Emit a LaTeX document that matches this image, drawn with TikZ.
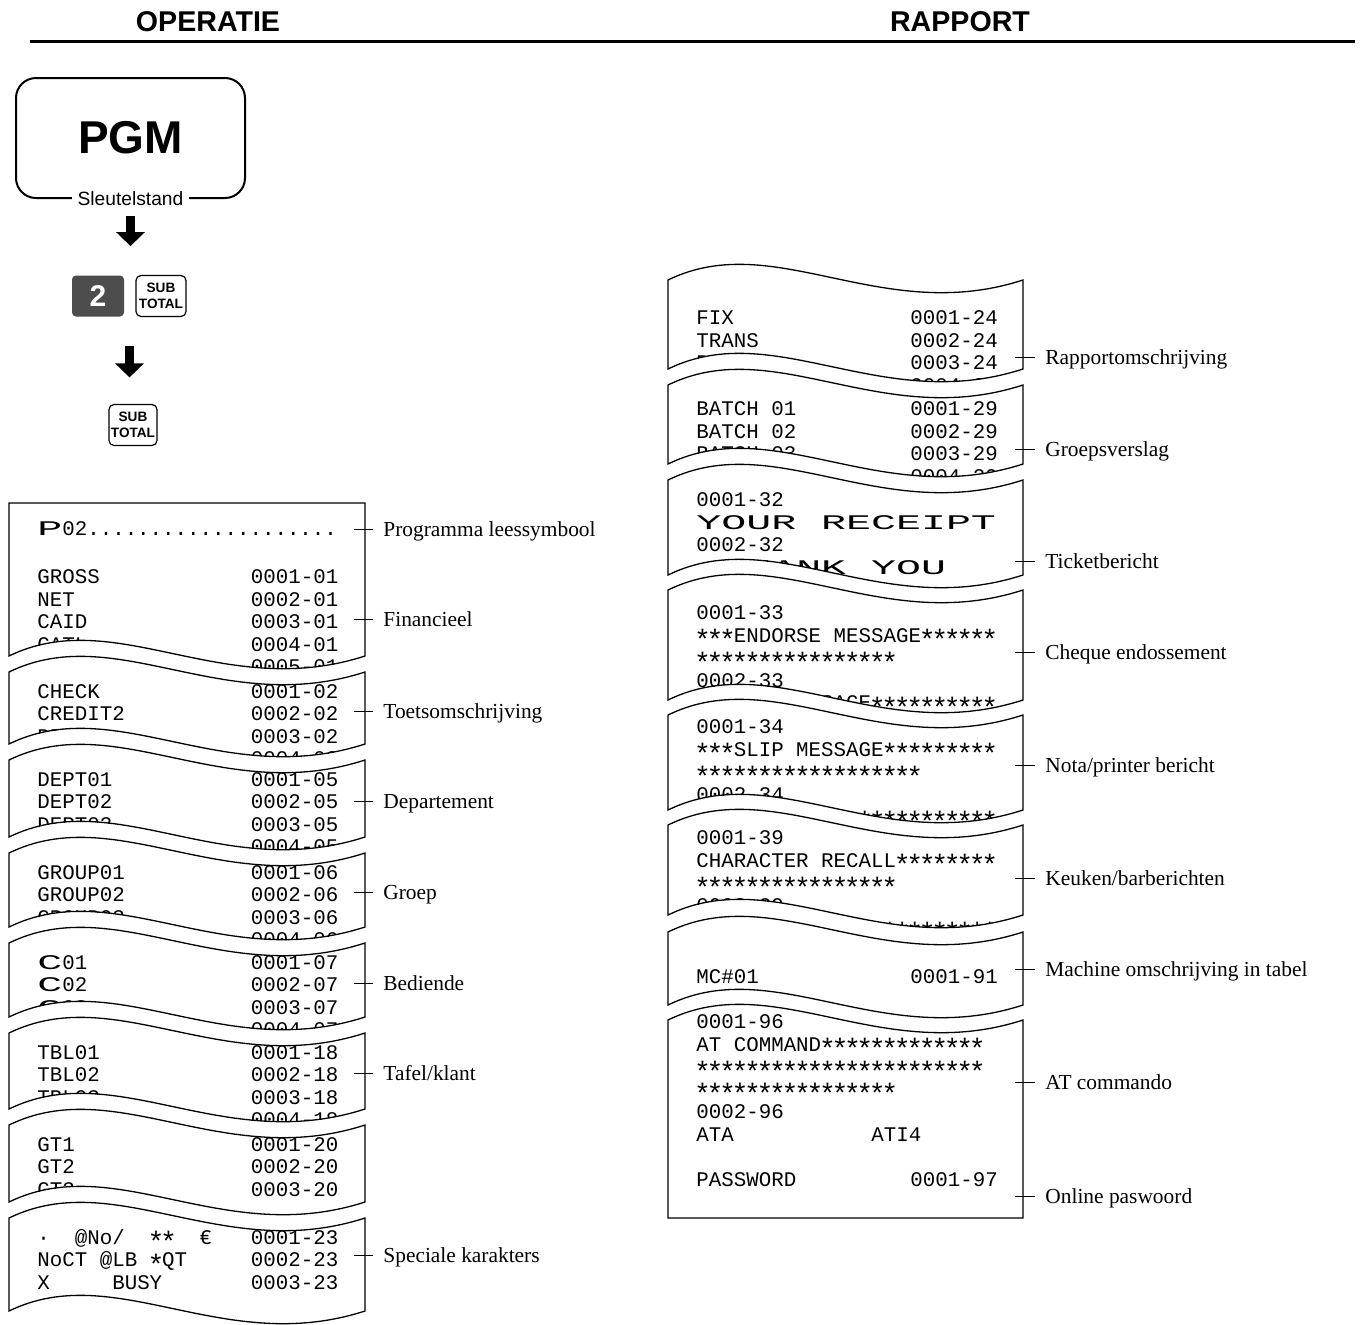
\documentclass[tikz,border=0pt]{standalone}
\usepackage{fontspec}
\setmainfont{Liberation Serif}
\setsansfont{Liberation Sans}
\setmonofont{Liberation Mono}
\usepackage{graphicx}
\usepackage{tikz}
\usetikzlibrary{positioning,arrows.meta,calc}
\definecolor{keygray}{HTML}{4D4D4D}

% torn receipt pieces: left x, right x, top y, bottom y
\newcommand\tornpath[4]{(#1,#4) -- (#1,#3) .. controls ({#1+0.3*(#2-#1)},{#3-52}) and ({#1+0.6*(#2-#1)},{#3+46}) .. (#2,#3)
  -- (#2,#4) .. controls ({#1+0.6*(#2-#1)},{#4+46}) and ({#1+0.3*(#2-#1)},{#4-52}) .. (#1,#4) -- cycle}
\newcommand\topflat[4]{(#1,#4) -- (#1,#3) -- (#2,#3)
  -- (#2,#4) .. controls ({#1+0.6*(#2-#1)},{#4+46}) and ({#1+0.3*(#2-#1)},{#4-52}) .. (#1,#4) -- cycle}
\newcommand\botflat[4]{(#1,#4) -- (#1,#3) .. controls ({#1+0.3*(#2-#1)},{#3-52}) and ({#1+0.6*(#2-#1)},{#3+46}) .. (#2,#3)
  -- (#2,#4) -- cycle}
% a run of printer stars, one per column
\newcommand\stars[1]{\foreach \k in {1,...,#1}{\makebox[0.6em]{\smash{\raisebox{-0.36em}{\scalebox{1.35}{*}}}}}}

\begin{document}
\begin{tikzpicture}[x=0.5pt,y=-0.5pt,
  head/.style={inner sep=0,font=\sffamily\bfseries\fontsize{14.3}{16}\selectfont},
  rl/.style={anchor=base west,inner sep=0,font=\ttfamily\fontsize{10.4}{12}\selectfont},
  paper/.style={draw,line width=0.65pt},
  lbl/.style={anchor=west,inner sep=0,text height=7pt,text depth=0pt,font=\fontsize{10.7}{12}\selectfont},
  tickline/.style={line width=0.5pt,shorten >=5pt},
  keysub/.style={draw,line width=0.6pt,rounded corners=2.5pt,minimum width=25pt,minimum height=20.5pt,
    inner sep=0,align=center,font=\sffamily\bfseries\fontsize{6.8}{7.8}\selectfont},
  bigarrow/.style={line width=4.5pt,-{Triangle[width=14pt,length=7pt]}}
]
\useasboundingbox (0,0) rectangle (1360,1324);

% column heads
\node[head] (op) at (208,22) {OPERATIE};
\node[head] (rap) at (960,22) {RAPPORT};
\draw[line width=1.5pt] (30,41) -- (1355,41);

% key sequence
\node[draw,line width=1pt,rounded corners=10pt,minimum width=114.5pt,minimum height=60pt,
  font=\sffamily\bfseries\fontsize{23}{25}\selectfont] (pgm) at (130.5,138) {PGM};
\node[fill=white,inner xsep=3pt,inner ysep=1pt,font=\sffamily\fontsize{9.6}{11}\selectfont] (sleutel) at (pgm.south) {Sleutelstand};
\node[fill=keygray,rounded corners=2pt,minimum width=26pt,minimum height=20.5pt,inner sep=0,
  text=white,font=\sffamily\bfseries\fontsize{15}{16}\selectfont] (key2) at (98,296) {2};
\node[keysub,right=5.5pt of key2] (ksub1) {SUB\\TOTAL};
\node[keysub,minimum width=24pt] (ksub2) at (133,425) {SUB\\TOTAL};
\coordinate (kmid) at ($(key2.south)!0.5!(ksub1.south)$);
\draw[bigarrow,shorten <=8.5pt,shorten >=14.5pt] (pgm.south) -- (pgm.south |- key2.north);
\draw[bigarrow,shorten <=14.25pt,shorten >=13.25pt] (kmid) -- (kmid |- ksub2.north);

% left receipt
\begin{scope}
  \clip \topflat{9}{365}{503}{656};
  \node[rl] (p02) at (37,535) {\scalebox{2}[1]{P}02....................};
  \foreach \x/\y/\t [count=\i] in {37/583.5/GROSS, 37/606/NET, 37/628.5/CAID, 37/651/CATL,
      250.5/583.5/0001-01, 250.5/606/0002-01, 250.5/628.5/0003-01, 250.5/651/0004-01, 250.5/673.5/0005-01}
    \node[rl] (a\i) at (\x,\y) {\t};
\end{scope}
\draw[paper] \topflat{9}{365}{503}{656};

\begin{scope}
  \clip \tornpath{9}{365}{672}{744};
  \foreach \x/\y/\t [count=\i] in {37/698/CHECK, 37/720.5/CREDIT2, 37/743/PD,
      250.5/698/0001-02, 250.5/720.5/0002-02, 250.5/743/0003-02, 250.5/765.5/0004-02}
    \node[rl] (b\i) at (\x,\y) {\t};
\end{scope}
\draw[paper] \tornpath{9}{365}{672}{744};

\begin{scope}
  \clip \tornpath{9}{365}{760}{837};
  \foreach \x/\y/\t [count=\i] in {37/786/DEPT01, 37/808.5/DEPT02, 37/831/DEPT03,
      250.5/786/0001-05, 250.5/808.5/0002-05, 250.5/831/0003-05, 250.5/853.5/0004-05}
    \node[rl] (c\i) at (\x,\y) {\t};
\end{scope}
\draw[paper] \tornpath{9}{365}{760}{837};

\begin{scope}
  \clip \tornpath{9}{365}{853}{927};
  \foreach \x/\y/\t [count=\i] in {37/879/GROUP01, 37/901.5/GROUP02, 37/924/GROUP03,
      250.5/879/0001-06, 250.5/901.5/0002-06, 250.5/924/0003-06, 250.5/946.5/0004-06}
    \node[rl] (d\i) at (\x,\y) {\t};
\end{scope}
\draw[paper] \tornpath{9}{365}{853}{927};

\begin{scope}
  \clip \tornpath{9}{365}{943}{1017};
  \foreach \x/\y/\t [count=\i] in {37/969/{\scalebox{2}[1]{C}01}, 37/991.5/{\scalebox{2}[1]{C}02}, 37/1014/{\scalebox{2}[1]{C}03},
      250.5/969/0001-07, 250.5/991.5/0002-07, 250.5/1014/0003-07, 250.5/1036.5/0004-07}
    \node[rl] (e\i) at (\x,\y) {\t};
\end{scope}
\draw[paper] \tornpath{9}{365}{943}{1017};

\begin{scope}
  \clip \tornpath{9}{365}{1033}{1109};
  \foreach \x/\y/\t [count=\i] in {37/1059/TBL01, 37/1081.5/TBL02, 37/1104/TBL03,
      250.5/1059/0001-18, 250.5/1081.5/0002-18, 250.5/1104/0003-18, 250.5/1126.5/0004-18}
    \node[rl] (f\i) at (\x,\y) {\t};
\end{scope}
\draw[paper] \tornpath{9}{365}{1033}{1109};

\begin{scope}
  \clip \tornpath{9}{365}{1125}{1202};
  \foreach \x/\y/\t [count=\i] in {37/1151/GT1, 37/1173.5/GT2, 37/1196/GT3,
      250.5/1151/0001-20, 250.5/1173.5/0002-20, 250.5/1196/0003-20}
    \node[rl] (g\i) at (\x,\y) {\t};
\end{scope}
\draw[paper] \tornpath{9}{365}{1125}{1202};

\begin{scope}
  \clip \tornpath{9}{365}{1218}{1311};
  \foreach \x/\y/\t [count=\i] in {37/1244/{·~~@No/~~\stars{2}~~€}, 37/1266.5/{NoCT~@LB~\stars{1}QT}, 37/1289/{X~~~~~BUSY},
      250.5/1244/0001-23, 250.5/1266.5/0002-23, 250.5/1289/0003-23}
    \node[rl] (h\i) at (\x,\y) {\t};
\end{scope}
\draw[paper] \tornpath{9}{365}{1218}{1311};

% labels on the left receipt
\foreach \y/\t [count=\i] in {529/Programma leessymbool, 619/Financieel, 711/Toetsomschrijving,
    801/Departement, 892/Groep, 983/Bediende, 1073/{Tafel/klant}, 1255/Speciale karakters} {
  \coordinate (le\i) at (354,\y);
  \node[lbl] (ll\i) at (383,\y) {\t};
  \draw[tickline] (le\i) -- (ll\i.west);
}

% right receipt
\begin{scope}
  \clip \tornpath{668}{1023}{280}{369};
  \foreach \x/\y/\t [count=\i] in {696/324.5/FIX, 696/347/TRANS, 696/369.5/PLU,
      910/324.5/0001-24, 910/347/0002-24, 910/369.5/0003-24, 910/392/0004-24}
    \node[rl] (ra\i) at (\x,\y) {\t};
\end{scope}
\draw[paper] \tornpath{668}{1023}{280}{369};

\begin{scope}
  \clip \tornpath{668}{1023}{385}{464};
  \foreach \x/\y/\t [count=\i] in {696/415.5/BATCH~01, 696/438/BATCH~02, 696/460.5/BATCH~03,
      910/415.5/0001-29, 910/438/0002-29, 910/460.5/0003-29, 910/483/0004-29}
    \node[rl] (rb\i) at (\x,\y) {\t};
\end{scope}
\draw[paper] \tornpath{668}{1023}{385}{464};

\begin{scope}
  \clip \tornpath{668}{1023}{480}{575};
  \foreach \x/\y/\t [count=\i] in {696/506.5/0001-32, 696/529/{\scalebox{2}[1]{YOUR~RECEIPT}},
      696/551.5/0002-32, 696/574/{\scalebox{2}[1]{~THANK~YOU}}}
    \node[rl] (rc\i) at (\x,\y) {\t};
\end{scope}
\draw[paper] \tornpath{668}{1023}{480}{575};

\begin{scope}
  \clip \tornpath{668}{1023}{590}{700};
  \foreach \x/\y/\t [count=\i] in {696/619.5/0001-33, 696/642/{\stars{3}ENDORSE~MESSAGE\stars{6}},
      696/664.5/{\stars{16}}, 696/687/0002-33, 696/709.5/{\stars{7}MESSAGE\stars{10}}}
    \node[rl] (rd\i) at (\x,\y) {\t};
\end{scope}
\draw[paper] \tornpath{668}{1023}{590}{700};

\begin{scope}
  \clip \tornpath{668}{1023}{715}{810};
  \foreach \x/\y/\t [count=\i] in {696/733.5/0001-34, 696/756/{\stars{3}SLIP~MESSAGE\stars{9}},
      696/778.5/{\stars{18}}, 696/801/0002-34, 696/823.5/{\stars{6}LINE~~~\stars{11}}}
    \node[rl] (re\i) at (\x,\y) {\t};
\end{scope}
\draw[paper] \tornpath{668}{1023}{715}{810};

\begin{scope}
  \clip \tornpath{668}{1023}{825}{915};
  \foreach \x/\y/\t [count=\i] in {696/844.5/0001-39, 696/867/{CHARACTER~RECALL\stars{8}},
      696/889.5/{\stars{16}}, 696/912/0002-39, 696/934.5/{\stars{12}~~~\stars{9}}}
    \node[rl] (rf\i) at (\x,\y) {\t};
\end{scope}
\draw[paper] \tornpath{668}{1023}{825}{915};

\begin{scope}
  \clip \tornpath{668}{1023}{932}{1005};
  \node[rl] (rg1) at (696,983.5) {MC\#01};
  \node[rl] (rg2) at (910,983.5) {0001-91};
\end{scope}
\draw[paper] \tornpath{668}{1023}{932}{1005};

\begin{scope}
  \clip \botflat{668}{1023}{1020}{1218};
  \foreach \x/\y/\t [count=\i] in {696/1028.5/0001-96, 696/1051/{AT~COMMAND\stars{13}},
      696/1073.5/{\stars{23}}, 696/1096/{\stars{16}},
      696/1118.5/0002-96, 696/1141/ATA, 871/1141/ATI4, 696/1186/PASSWORD, 910/1186/0001-97}
    \node[rl] (rh\i) at (\x,\y) {\t};
\end{scope}
\draw[paper] \botflat{668}{1023}{1020}{1218};

% labels on the right receipt
\foreach \y/\t [count=\i] in {357/Rapportomschrijving, 449/Groepsverslag, 561/Ticketbericht,
    652/Cheque endossement, 765/{Nota/printer bericht}, 878/{Keuken/barberichten},
    969/Machine omschrijving in tabel, 1082/AT commando, 1196/Online paswoord} {
  \coordinate (re\i) at (1015,\y);
  \node[lbl] (rl\i) at (1045,\y) {\t};
  \draw[tickline] (re\i) -- (rl\i.west);
}
\end{tikzpicture}
\end{document}
